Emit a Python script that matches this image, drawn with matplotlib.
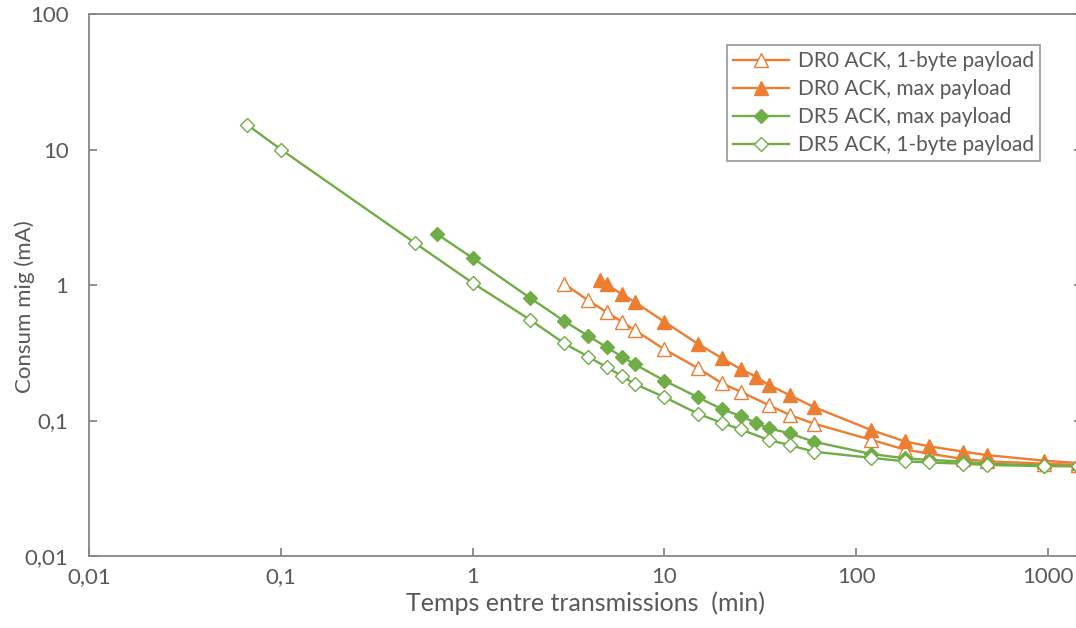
import math
import matplotlib
matplotlib.use("Agg")
import matplotlib.pyplot as plt
from matplotlib.ticker import FixedLocator, FixedFormatter, NullLocator

plt.rcParams['font.family'] = ['Lato', 'DejaVu Sans']

# ---- data ----
x_dr0_1b = [3, 4, 5, 6, 7, 10, 15, 20, 25, 35, 45, 60, 120, 180, 240, 360, 480, 960, 1440]
y_dr0_1b = [1.02, 0.77, 0.63, 0.535, 0.465, 0.335, 0.243, 0.188, 0.163, 0.130, 0.110, 0.095,
            0.072, 0.061, 0.057, 0.052, 0.050, 0.048, 0.047]

x_dr0_max = [4.6, 5, 6, 7, 10, 15, 20, 25, 30, 35, 45, 60, 120, 180, 240, 360, 480, 960, 1440]
y_dr0_max = [1.09, 1.01, 0.855, 0.75, 0.535, 0.367, 0.288, 0.239, 0.211, 0.183, 0.154, 0.126,
             0.085, 0.0700, 0.0645, 0.0590, 0.0556, 0.0505, 0.0485]

x_dr5_max = [0.65, 1, 2, 3, 4, 5, 6, 7, 10, 15, 20, 25, 30, 35, 45, 60, 120, 180, 240, 360, 480, 960, 1440]
y_dr5_max = [2.38, 1.58, 0.80, 0.542, 0.421, 0.347, 0.296, 0.260, 0.197, 0.148, 0.121, 0.108, 0.096,
             0.0876, 0.0804, 0.0698, 0.0566, 0.0526, 0.0512, 0.0498, 0.0480, 0.0465, 0.0460]

x_dr5_1b = [0.0667, 0.1, 0.5, 1, 2, 3, 4, 5, 6, 7, 10, 15, 20, 25, 35, 45, 60, 120, 180, 240, 360, 480, 960, 1440]
y_dr5_1b = [15.2, 10.0, 2.04, 1.035, 0.552, 0.371, 0.296, 0.247, 0.213, 0.186, 0.149, 0.112, 0.096,
            0.086, 0.0718, 0.066, 0.0589, 0.053, 0.050, 0.049, 0.048, 0.047, 0.046, 0.046]

labels = ["DR0 ACK, 1-byte payload", "DR0 ACK, max payload",
          "DR5 ACK, max payload", "DR5 ACK, 1-byte payload"]

x_ticks = [0.01, 0.1, 1, 10, 100, 1000]
x_ticklabels = ["0,01", "0,1", "1", "10", "100", "1000"]
y_ticks = [0.01, 0.1, 1, 10, 100]
y_ticklabels = ["0,01", "0,1", "1", "10", "100"]

xlabel = "Temps entre transmissions  (min)"
ylabel = "Consum mig (mA)"

# ---- style ----
ORANGE = "#ED7D31"
GREEN = "#70AD47"
AXIS_C = "#868686"
TEXT_C = "#595959"

W, H = 1076, 628
fig = plt.figure(figsize=(W / 100, H / 100), dpi=100)
xmin, xmax = 0.01, 1500
left_px, top_px, bottom_px = 89.3, 14, 556
decade_px = 191.7
width_px = (math.log10(xmax) - math.log10(xmin)) * decade_px
ax = fig.add_axes([left_px / W, (H - bottom_px) / H, width_px / W, (bottom_px - top_px) / H])

lw = 1.7
tri_ms, dia_ms = 10, 7.5
ax.plot(x_dr0_1b, y_dr0_1b, color=ORANGE, lw=lw, marker='^', ms=tri_ms, mfc='white',
        mec=ORANGE, mew=1.0, label=labels[0], clip_on=False, zorder=3)
ax.plot(x_dr0_max, y_dr0_max, color=ORANGE, lw=lw, marker='^', ms=tri_ms, mfc=ORANGE,
        mec=ORANGE, mew=1.0, label=labels[1], clip_on=False, zorder=3)
ax.plot(x_dr5_max, y_dr5_max, color=GREEN, lw=lw, marker='D', ms=dia_ms, mfc=GREEN,
        mec=GREEN, mew=1.0, label=labels[2], clip_on=False, zorder=3)
ax.plot(x_dr5_1b, y_dr5_1b, color=GREEN, lw=lw, marker='D', ms=dia_ms, mfc='white',
        mec=GREEN, mew=1.0, label=labels[3], clip_on=False, zorder=3)

ax.set_xscale('log')
ax.set_yscale('log')
ax.set_xlim(xmin, xmax)
ax.set_ylim(0.01, 100)

ax.xaxis.set_major_locator(FixedLocator(x_ticks))
ax.xaxis.set_major_formatter(FixedFormatter(x_ticklabels))
ax.yaxis.set_major_locator(FixedLocator(y_ticks))
ax.yaxis.set_major_formatter(FixedFormatter(y_ticklabels))
ax.xaxis.set_minor_locator(NullLocator())
ax.yaxis.set_minor_locator(NullLocator())

for s in ax.spines.values():
    s.set_color(AXIS_C)
    s.set_linewidth(1.3)

ax.tick_params(axis='both', which='major', direction='in', length=5.5, width=1.3,
               color=AXIS_C, labelcolor=TEXT_C, labelsize=16)
ax.tick_params(axis='y', right=True, pad=15)
ax.tick_params(axis='x', pad=8)

ax.set_xlabel(xlabel, fontsize=18, color=TEXT_C, labelpad=3)
fig.text(25 / W, 1 - 307 / H, ylabel, rotation=90, ha='center', va='center',
         fontsize=16, color=TEXT_C)

leg = ax.legend(loc='upper right', bbox_to_anchor=(1040 / W, 1 - 45 / H),
                bbox_transform=fig.transFigure, borderaxespad=0, fontsize=15,
                frameon=True, fancybox=False, handlelength=2.7, handletextpad=0.4,
                labelspacing=0.38, borderpad=0.3, labelcolor=TEXT_C)
leg.get_frame().set_edgecolor(AXIS_C)
leg.get_frame().set_linewidth(1.3)

fig.savefig("out.png", dpi=100)
